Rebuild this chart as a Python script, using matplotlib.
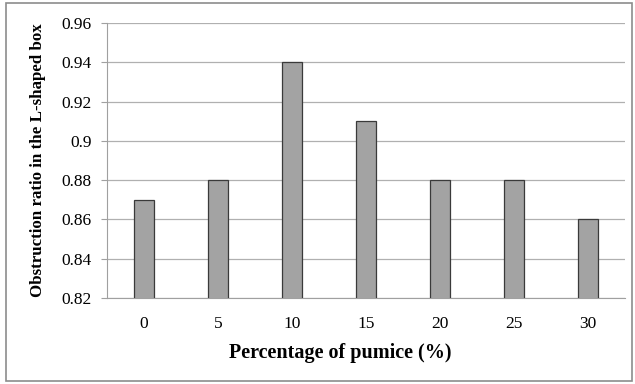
import numpy as np
import matplotlib
matplotlib.use("Agg")
import matplotlib.pyplot as plt
from matplotlib.patches import Rectangle

categories = ['0', '5', '10', '15', '20', '25', '30']
ratios = [0.87, 0.88, 0.94, 0.91, 0.88, 0.88, 0.86]
yticks = [0.82, 0.84, 0.86, 0.88, 0.90, 0.92, 0.94, 0.96]
ytick_labels = ['0.82', '0.84', '0.86', '0.88', '0.9', '0.92', '0.94', '0.96']

plt.rcParams['font.family'] = ['Liberation Serif', 'DejaVu Serif']

fig = plt.figure(figsize=(6.35, 3.84), dpi=100)
ax = fig.add_axes([107 / 635, 1 - 298 / 384, 518 / 635, 275 / 384])

x = np.arange(len(categories))
ax.bar(x, ratios, width=0.26, color='#a3a3a3', edgecolor='#3a3a3a', linewidth=0.9, zorder=3)

ax.set_xlim(-0.5, len(categories) - 0.5)
ax.set_ylim(0.82, 0.96)
ax.set_yticks(yticks)
ax.set_yticklabels(ytick_labels, fontsize=12.5)
ax.set_xticks(x)
ax.set_xticklabels(categories, fontsize=12.5)
ax.yaxis.grid(True, color='#b0b0b0', linewidth=0.9, zorder=0)

for side in ['top', 'right']:
    ax.spines[side].set_visible(False)
for side in ['left', 'bottom']:
    ax.spines[side].set_color('#a0a0a0')
ax.tick_params(axis='y', length=4, color='#a0a0a0', pad=7)
ax.tick_params(axis='x', length=0, pad=13)

fig.text(340 / 635, 1 - 353 / 384, 'Percentage of pumice (%)', fontsize=14.5,
         fontweight='bold', ha='center', va='center')
ax.set_ylabel('Obstruction ratio in the L-shaped box', fontsize=12.2, fontweight='bold', labelpad=11)

# outer border of the chart
fig.patches.append(Rectangle((6 / 635, 3 / 384), 626 / 635, 378 / 384, transform=fig.transFigure,
                             fill=False, edgecolor='#8c8c8c', linewidth=1.2))

fig.savefig('out.png', dpi=100)
